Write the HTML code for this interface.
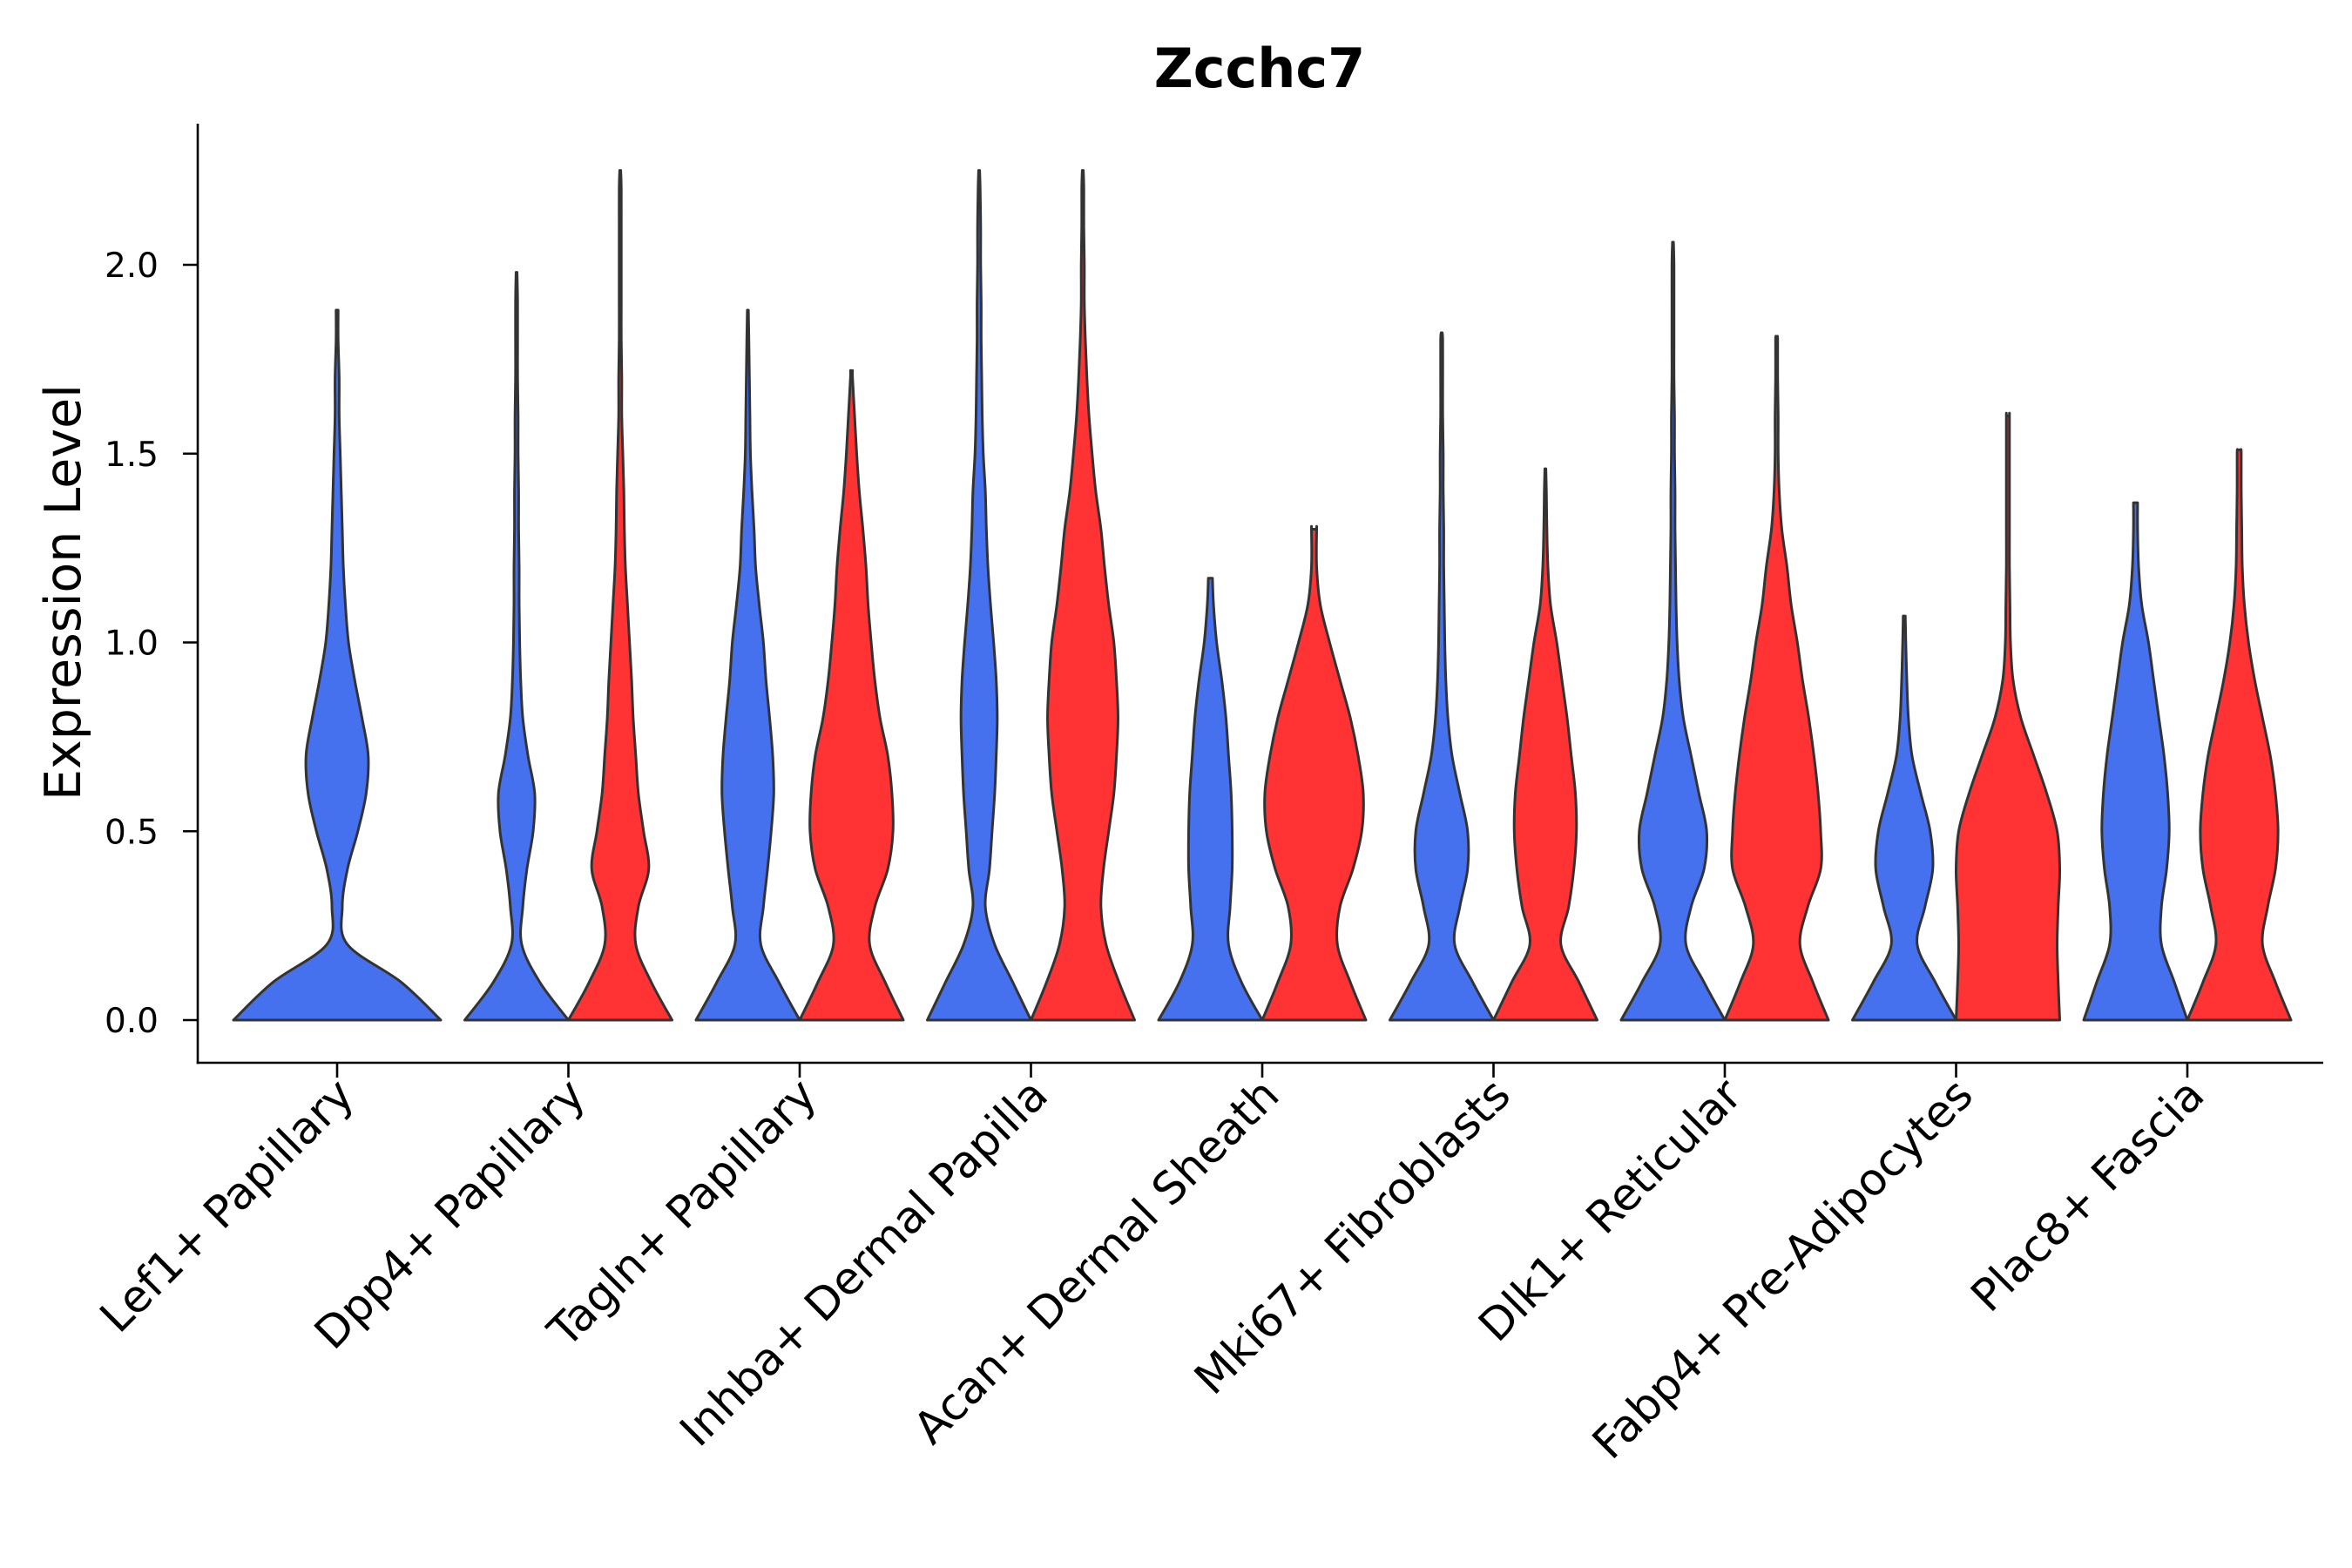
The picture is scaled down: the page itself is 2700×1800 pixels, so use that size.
<!DOCTYPE html>
<html><head><meta charset="utf-8"><style>
html,body{margin:0;padding:0;background:#fff}
svg{display:block;font-family:"DejaVu Sans","Liberation Sans",sans-serif}
</style></head><body>
<svg id="chart" width="2700" height="1800" viewBox="0 0 2700 1800"></svg>
<script>
const categories = ["Lef1+ Papillary","Dpp4+ Papillary","Tagln+ Papillary","Inhba+ Dermal Papilla","Acan+ Dermal Sheath","Mki67+ Fibroblasts","Dlk1+ Reticular","Fabp4+ Pre-Adipocytes","Plac8+ Fascia"];
const yTicks = [0,0.5,1.0,1.5,2.0];
const yTickLabels = ["0.0","0.5","1.0","1.5","2.0"];
// max expression per violin (blue, red); null = group absent
const blueMax = [1.88,1.98,1.88,2.25,1.17,1.82,2.06,1.07,1.37];
const redMax  = [null,2.25,1.72,2.25,1.30,1.46,1.81,1.60,1.51];
// relative density widths at 0.0,0.1,0.2,... (last point at max)
const blueDens = [
 [1,0.62,0.1,0.05,0.1,0.2,0.28,0.3,0.24,0.17,0.11,0.08,0.06,0.05,0.04,0.03,0.02,0.02,0.01,0.01],
 [1,0.45,0.1,0.12,0.2,0.32,0.35,0.22,0.12,0.08,0.06,0.05,0.05,0.04,0.04,0.03,0.03,0.02,0.02,0.02,0.01],
 [1,0.6,0.25,0.3,0.38,0.45,0.5,0.48,0.42,0.35,0.3,0.22,0.15,0.12,0.08,0.05,0.04,0.03,0.02,0.01],
 [1,0.65,0.3,0.12,0.2,0.25,0.3,0.33,0.35,0.33,0.28,0.22,0.17,0.14,0.12,0.08,0.06,0.05,0.04,0.04,0.03,0.03,0.02,0.01],
 [1,0.6,0.35,0.38,0.42,0.42,0.4,0.35,0.3,0.22,0.12,0.06,0.04],
 [1,0.6,0.25,0.35,0.5,0.5,0.35,0.2,0.12,0.08,0.06,0.05,0.04,0.04,0.03,0.03,0.02,0.02,0.02,0.01],
 [1,0.6,0.25,0.35,0.6,0.65,0.5,0.35,0.2,0.12,0.08,0.06,0.05,0.04,0.04,0.03,0.03,0.02,0.02,0.02,0.02,0.01],
 [1,0.6,0.25,0.4,0.55,0.5,0.32,0.15,0.08,0.05,0.03,0.02],
 [1,0.75,0.5,0.5,0.6,0.65,0.62,0.55,0.45,0.35,0.25,0.12,0.06,0.04,0.04]
];
const redDens = [
 null,
 [1,0.6,0.3,0.35,0.55,0.45,0.35,0.3,0.25,0.22,0.18,0.14,0.1,0.08,0.07,0.05,0.03,0.03,0.02,0.02,0.02,0.02,0.02,0.01],
 [1,0.65,0.35,0.45,0.7,0.8,0.78,0.7,0.55,0.45,0.38,0.32,0.28,0.22,0.15,0.1,0.06,0.02,0.02],
 [1,0.7,0.45,0.35,0.4,0.5,0.6,0.65,0.68,0.65,0.6,0.5,0.42,0.35,0.25,0.18,0.12,0.08,0.05,0.03,0.03,0.02,0.02,0.01],
 [1,0.7,0.45,0.5,0.75,0.92,0.95,0.85,0.7,0.5,0.3,0.12,0.05,0.05,0.05],
 [1,0.65,0.3,0.45,0.55,0.6,0.58,0.5,0.42,0.32,0.22,0.1,0.05,0.03,0.02,0.01],
 [1,0.7,0.45,0.6,0.85,0.85,0.8,0.72,0.62,0.5,0.4,0.28,0.2,0.1,0.05,0.03,0.03,0.02,0.02,0.01],
 [1,0.97,0.95,0.97,1.0,0.95,0.75,0.5,0.25,0.1,0.05,0.04,0.03,0.03,0.03,0.03,0.03,0.03],
 [1,0.7,0.45,0.55,0.7,0.75,0.7,0.6,0.45,0.3,0.18,0.1,0.06,0.05,0.04,0.04,0.03]
];
const NS="http://www.w3.org/2000/svg";
const svg=document.getElementById('chart');
const X0=227, XR=2667, YB=1220, YT=142;
const yScale=v=>1171-v*433.5;
const xScale=i=>387+i*265.5;
const HALF=59.5;
function mk(tag,attrs,parent){const e=document.createElementNS(NS,tag);for(const k in attrs)e.setAttribute(k,attrs[k]);(parent||svg).appendChild(e);return e;}
function pts(dens,max){const p=[];for(let k=0;k<dens.length;k++){let v=k*0.1;if(k===dens.length-1||v>max)v=max;p.push([v,dens[k]]);}return p;}
function smoothSide(points){
 let d="";for(let i=0;i<points.length-1;i++){const p0=points[Math.max(0,i-1)],p1=points[i],p2=points[i+1],p3=points[Math.min(points.length-1,i+2)];
 const c1=[p1[0]+(p2[0]-p0[0])/6,p1[1]+(p2[1]-p0[1])/6],c2=[p2[0]-(p3[0]-p1[0])/6,p2[1]-(p3[1]-p1[1])/6];
 d+=` C${c1[0]},${c1[1]} ${c2[0]},${c2[1]} ${p2[0]},${p2[1]}`;}return d;}
function violin(cx,half,dens,max,color,name){
 const p=pts(dens,max);
 const right=p.map(q=>[cx+q[1]*half,yScale(q[0])]);
 const left=p.slice().reverse().map(q=>[cx-q[1]*half,yScale(q[0])]);
 let d=`M${cx-half},${yScale(0)} L${right[0][0]},${right[0][1]}`+smoothSide(right)+` L${left[0][0]},${left[0][1]}`+smoothSide(left)+" Z";
 const e=mk('path',{d:d,fill:color,stroke:'#333',"stroke-width":3,"stroke-linejoin":"round"});
 
 
}
const title=mk('text',{x:1446,y:100,"text-anchor":"middle","font-size":62,"font-weight":"bold",fill:"#000"});
title.textContent="Zcchc7";


categories.forEach((c,i)=>{
 const cx=xScale(i);
 if(redMax[i]===null){violin(cx,HALF*2,blueDens[i],blueMax[i],'#4570EE','violin-blue-'+i);}
 else{violin(cx-HALF,HALF,blueDens[i],blueMax[i],'#4570EE','violin-blue-'+i);violin(cx+HALF,HALF,redDens[i],redMax[i],'#FF3333','violin-red-'+i);}
 const t=mk('line',{x1:cx,x2:cx,y1:YB,y2:YB+17,stroke:'#000',"stroke-width":2.6});
 
 
 const ax=cx+22, ay=YB+40;
 const l=mk('text',{x:ax,y:ay,"text-anchor":"end","font-size":51,fill:"#000",transform:`rotate(-45 ${ax} ${ay})`});
 l.textContent=c;
 
 
});
yTicks.forEach((v,i)=>{
 const y=yScale(v);
 const t=mk('line',{x1:X0-17,x2:X0,y1:y,y2:y,stroke:'#000',"stroke-width":2.6});
 
 
 const l=mk('text',{x:182,y:y+14,"text-anchor":"end","font-size":39,fill:"#000"});
 l.textContent=yTickLabels[i];
 
 
});
const ya=mk('line',{x1:X0,x2:X0,y1:YT,y2:YB+1.3,stroke:'#000',"stroke-width":2.6});


const xa=mk('line',{x1:X0-1.3,x2:XR,y1:YB,y2:YB,stroke:'#000',"stroke-width":2.6});


const yt=mk('text',{x:0,y:0,"text-anchor":"middle","font-size":57,fill:"#000",transform:"translate(92 680) rotate(-90)"});
yt.textContent="Expression Level";


</script>
</body></html>
